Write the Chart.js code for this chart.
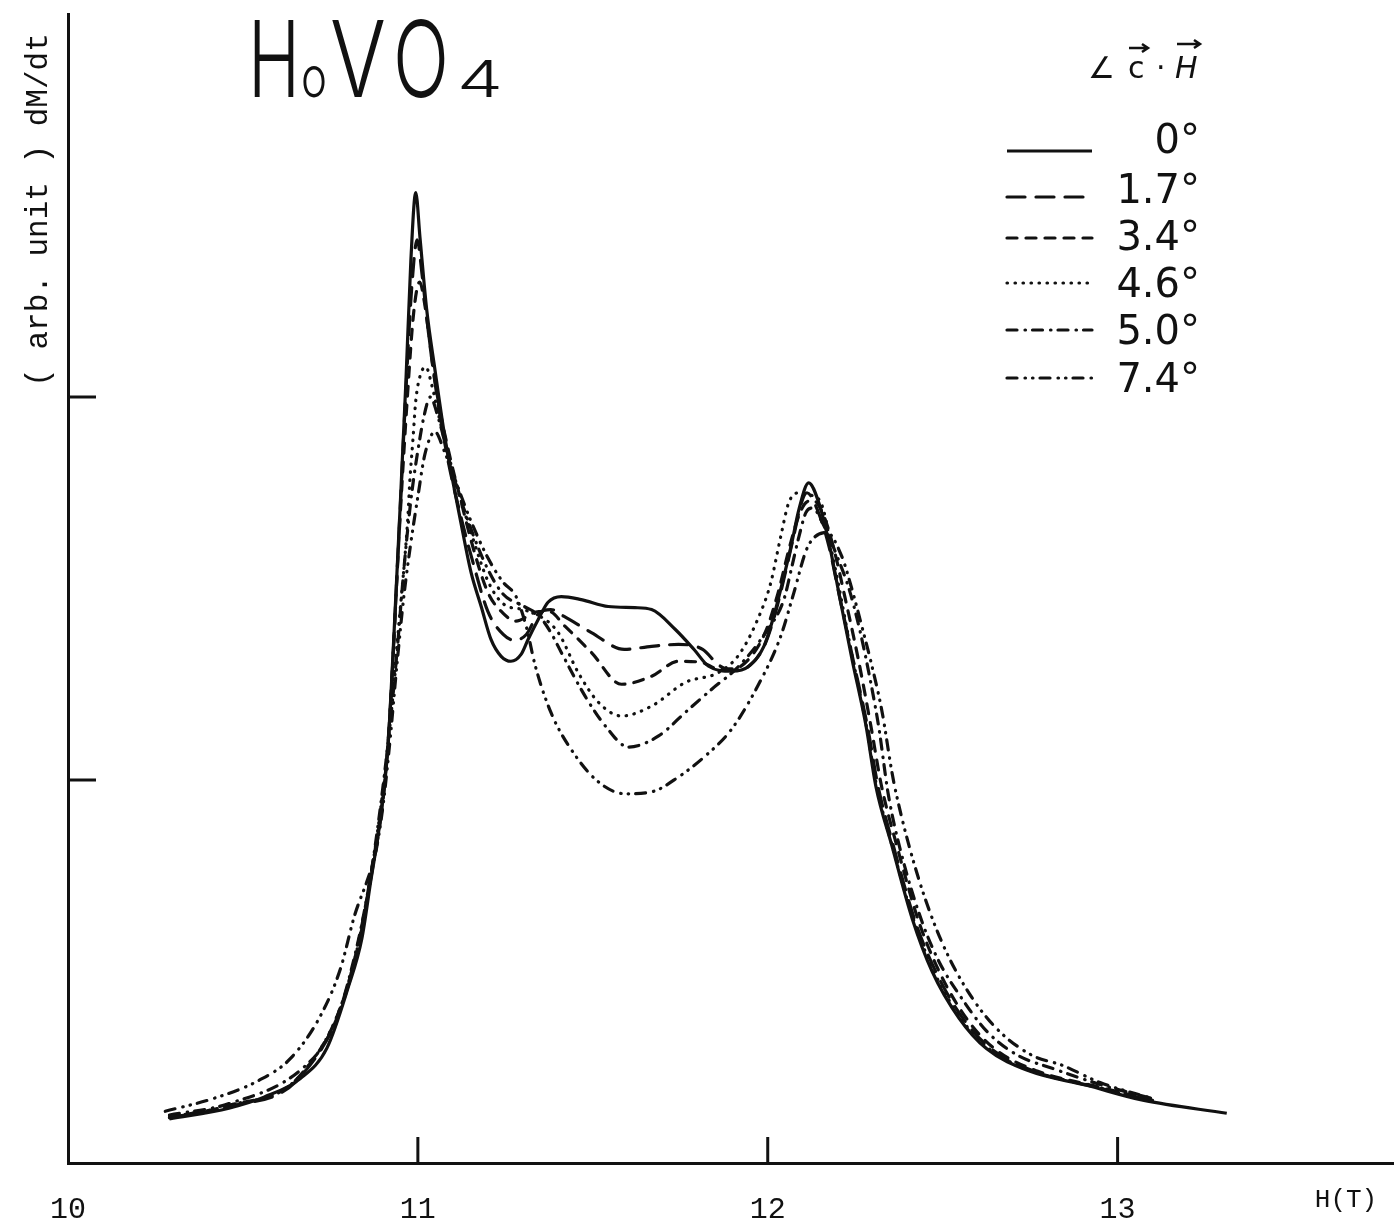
<!DOCTYPE html>
<html>
<head>
<meta charset="utf-8">
<title>HoVO4 dM/dt</title>
<script src="https://cdn.jsdelivr.net/npm/chart.js@4.4.1/dist/chart.umd.min.js"></script>
<style>
  html, body { margin: 0; padding: 0; background: #fff; }
  #wrap { width: 1394px; height: 1224px; }
</style>
</head>
<body>
<div id="wrap"><canvas id="chart" width="1394" height="1224"></canvas></div>
<script>
// angle between c axis and field, one curve per angle
const ANGLES = ['0°', '1.7°', '3.4°', '4.6°', '5.0°', '7.4°'];

// H (T) and dM/dt (arb. unit)
const H_0 = [10.29, 10.46, 10.56, 10.665, 10.74, 10.8, 10.84, 10.865, 10.894, 10.914, 10.931, 10.948, 10.966, 10.98, 10.994, 11.006, 11.025, 11.049, 11.077, 11.123, 11.152, 11.181, 11.209, 11.238, 11.266, 11.295, 11.315, 11.344, 11.372, 11.41, 11.467, 11.544, 11.62, 11.668, 11.736, 11.79, 11.831, 11.897, 11.946, 11.989, 12.017, 12.046, 12.069, 12.089, 12.117, 12.146, 12.175, 12.203, 12.241, 12.281, 12.309, 12.355, 12.413, 12.47, 12.547, 12.625, 12.748, 12.911, 13.072, 13.312];
const M_0 = [0.115, 0.143, 0.172, 0.221, 0.30, 0.456, 0.586, 0.734, 0.906, 1.081, 1.367, 1.688, 2.044, 2.357, 2.534, 2.417, 2.23, 2.07, 1.896, 1.672, 1.542, 1.453, 1.367, 1.323, 1.31, 1.328, 1.367, 1.419, 1.464, 1.479, 1.471, 1.453, 1.45, 1.445, 1.393, 1.34, 1.297, 1.284, 1.297, 1.349, 1.427, 1.531, 1.62, 1.706, 1.776, 1.724, 1.62, 1.49, 1.315, 1.141, 0.984, 0.828, 0.638, 0.50, 0.378, 0.299, 0.24, 0.203, 0.164, 0.13];

const H_1 = [10.29, 10.46, 10.665, 10.8, 10.865, 10.914, 10.948, 10.966, 10.982, 10.998, 11.012, 11.03, 11.055, 11.085, 11.125, 11.16, 11.2, 11.244, 11.275, 11.31, 11.345, 11.38, 11.418, 11.496, 11.59, 11.668, 11.745, 11.814, 11.86, 11.9, 11.95, 11.99, 12.02, 12.05, 12.075, 12.095, 12.112, 12.14, 12.175, 12.205, 12.245, 12.285, 12.315, 12.36, 12.42, 12.48, 12.56, 12.64, 12.76, 12.92, 13.1];
const M_1 = [0.118, 0.147, 0.226, 0.46, 0.74, 1.085, 1.68, 2.02, 2.28, 2.41, 2.32, 2.17, 2.0, 1.84, 1.68, 1.56, 1.44, 1.38, 1.365, 1.38, 1.435, 1.445, 1.427, 1.385, 1.341, 1.349, 1.354, 1.341, 1.30, 1.286, 1.30, 1.35, 1.43, 1.54, 1.64, 1.72, 1.75, 1.71, 1.61, 1.48, 1.31, 1.14, 0.985, 0.825, 0.635, 0.50, 0.375, 0.297, 0.24, 0.202, 0.162];

const H_2 = [10.29, 10.46, 10.665, 10.8, 10.865, 10.914, 10.95, 10.97, 10.988, 11.005, 11.02, 11.04, 11.06, 11.09, 11.12, 11.16, 11.2, 11.244, 11.28, 11.345, 11.375, 11.421, 11.496, 11.582, 11.668, 11.745, 11.811, 11.86, 11.9, 11.95, 11.995, 12.03, 12.06, 12.085, 12.105, 12.13, 12.16, 12.19, 12.22, 12.26, 12.295, 12.325, 12.37, 12.43, 12.49, 12.57, 12.65, 12.77, 12.93, 13.1];
const M_2 = [0.12, 0.15, 0.23, 0.465, 0.75, 1.09, 1.70, 2.0, 2.22, 2.30, 2.24, 2.1, 1.98, 1.85, 1.74, 1.60, 1.49, 1.435, 1.415, 1.44, 1.44, 1.401, 1.333, 1.25, 1.271, 1.31, 1.307, 1.29, 1.29, 1.32, 1.39, 1.49, 1.60, 1.68, 1.72, 1.73, 1.69, 1.60, 1.48, 1.31, 1.14, 0.985, 0.825, 0.635, 0.50, 0.375, 0.297, 0.24, 0.202, 0.164];

const H_3 = [10.29, 10.46, 10.665, 10.8, 10.865, 10.914, 10.93, 10.95, 10.971, 10.977, 10.986, 10.994, 11.008, 11.023, 11.04, 11.06, 11.09, 11.12, 11.152, 11.2, 11.244, 11.3, 11.345, 11.401, 11.458, 11.516, 11.582, 11.668, 11.765, 11.86, 11.92, 11.983, 12.009, 12.037, 12.06, 12.09, 12.12, 12.152, 12.166, 12.18, 12.198, 12.24, 12.28, 12.31, 12.355, 12.415, 12.475, 12.55, 12.63, 12.75, 12.92, 13.1];
const M_3 = [0.12, 0.15, 0.23, 0.465, 0.745, 1.085, 1.25, 1.45, 1.68, 1.78, 1.89, 1.99, 2.06, 2.078, 2.03, 1.95, 1.84, 1.74, 1.646, 1.52, 1.46, 1.445, 1.43, 1.385, 1.281, 1.203, 1.167, 1.193, 1.255, 1.281, 1.33, 1.445, 1.516, 1.635, 1.724, 1.75, 1.745, 1.724, 1.68, 1.61, 1.53, 1.33, 1.15, 0.99, 0.83, 0.64, 0.50, 0.38, 0.30, 0.242, 0.203, 0.164];

const H_4 = [10.29, 10.46, 10.665, 10.75, 10.8, 10.865, 10.914, 10.94, 10.96, 10.98, 11.0, 11.02, 11.035, 11.06, 11.1, 11.15, 11.2, 11.244, 11.3, 11.345, 11.38, 11.41, 11.478, 11.536, 11.602, 11.688, 11.765, 11.84, 11.917, 11.994, 12.046, 12.069, 12.089, 12.109, 12.128, 12.16, 12.2, 12.232, 12.261, 12.289, 12.317, 12.345, 12.384, 12.441, 12.49, 12.547, 12.625, 12.711, 12.82, 12.95, 13.1];
const M_4 = [0.125, 0.155, 0.243, 0.34, 0.47, 0.75, 1.09, 1.33, 1.55, 1.73, 1.86, 1.96, 2.0, 1.94, 1.80, 1.66, 1.55, 1.485, 1.455, 1.43, 1.385, 1.333, 1.219, 1.141, 1.086, 1.115, 1.177, 1.237, 1.297, 1.385, 1.471, 1.557, 1.635, 1.698, 1.71, 1.665, 1.58, 1.50, 1.40, 1.28, 1.14, 0.96, 0.80, 0.63, 0.525, 0.44, 0.345, 0.283, 0.245, 0.205, 0.168];

const H_5 = [10.278, 10.418, 10.542, 10.636, 10.722, 10.779, 10.819, 10.857, 10.877, 10.9, 10.92, 10.94, 10.96, 10.98, 11.0, 11.02, 11.049, 11.075, 11.1, 11.15, 11.2, 11.244, 11.28, 11.31, 11.335, 11.38, 11.438, 11.516, 11.593, 11.668, 11.745, 11.822, 11.897, 11.974, 12.035, 12.075, 12.11, 12.135, 12.169, 12.212, 12.241, 12.269, 12.298, 12.327, 12.355, 12.367, 12.404, 12.453, 12.51, 12.585, 12.662, 12.756, 12.842, 12.95, 13.1];
const M_5 = [0.135, 0.169, 0.214, 0.273, 0.385, 0.508, 0.646, 0.742, 0.80, 0.93, 1.10, 1.30, 1.48, 1.62, 1.74, 1.85, 1.909, 1.86, 1.80, 1.68, 1.58, 1.516, 1.48, 1.40, 1.30, 1.177, 1.08, 0.995, 0.964, 0.969, 1.008, 1.063, 1.133, 1.25, 1.37, 1.49, 1.60, 1.635, 1.646, 1.583, 1.497, 1.401, 1.297, 1.177, 1.02, 0.965, 0.828, 0.682, 0.552, 0.43, 0.344, 0.281, 0.255, 0.21, 0.168];

// axis ticks
const X_LABELS = [10, 11, 12, 13];
const X_MARKS = [11, 12, 13];
const Y_MARKS = [1, 2];

const X_TITLE = 'H(T)';
const Y_TITLE = '( arb. unit ) dM/dt';

const INK = '#111';
// line patterns: solid, long dash, dash, dots, dash-dot, dash-dot-dot
const DASHES = [[], [18, 11], [10, 9], [0.5, 7.5], [10, 8, 0.5, 7], [10, 8, 0.5, 7, 0.5, 7]];

const curves = [[H_0, M_0], [H_1, M_1], [H_2, M_2], [H_3, M_3], [H_4, M_4], [H_5, M_5]];

const datasets = curves.map(([hs, ms], i) => ({
  label: ANGLES[i],
  data: hs.map((h, k) => ({ x: h, y: ms[k] })),
  showLine: true,
  fill: false,
  borderColor: INK,
  borderWidth: 3.2,
  borderDash: DASHES[i],
  borderCapStyle: i === 0 ? 'butt' : 'round',
  cubicInterpolationMode: 'monotone',
  pointRadius: 0
}));

// extra drawing: inward ticks, axis captions, title and hand-written legend
const paperPlugin = {
  id: 'paper',
  afterDraw(chart) {
    const ctx = chart.ctx;
    const xs = chart.scales.x;
    const ys = chart.scales.y;
    const area = chart.chartArea;
    ctx.save();
    ctx.strokeStyle = INK;
    ctx.fillStyle = INK;
    ctx.lineWidth = 3;

    // tick marks pointing into the plot
    X_MARKS.forEach(v => {
      const px = xs.getPixelForValue(v);
      ctx.beginPath();
      ctx.moveTo(px, area.bottom);
      ctx.lineTo(px, area.bottom - 26);
      ctx.stroke();
    });
    Y_MARKS.forEach(v => {
      const py = ys.getPixelForValue(v);
      ctx.beginPath();
      ctx.moveTo(area.left, py);
      ctx.lineTo(area.left + 28, py);
      ctx.stroke();
    });

    // axis captions
    ctx.font = '26px "Liberation Mono", monospace';
    ctx.textAlign = 'center';
    ctx.textBaseline = 'middle';
    ctx.fillText(X_TITLE, 1346, 1200);

    ctx.save();
    ctx.translate(39, 210);
    ctx.rotate(-Math.PI / 2);
    ctx.font = '31px "Liberation Mono", monospace';
    ctx.fillText(Y_TITLE, 0, 0);
    ctx.restore();

    // compound name, drawn piece by piece like the lettering on the sheet
    const pieces = [
      { t: 'H', x: 248, w: 52, size: 106 },
      { t: 'o', x: 301, w: 26, size: 56 },
      { t: 'V', x: 330, w: 56, size: 106 },
      { t: 'O', x: 393, w: 56, size: 106 },
      { t: '4', x: 457, w: 46, size: 50 }
    ];
    ctx.textAlign = 'left';
    ctx.textBaseline = 'alphabetic';
    pieces.forEach(p => {
      ctx.font = `300 ${p.size}px Inter, "DejaVu Sans", sans-serif`;
      const sx = p.w / ctx.measureText(p.t).width;
      ctx.save();
      ctx.translate(p.x, 97);
      ctx.scale(sx, 1);
      ctx.fillText(p.t, 0, 0);
      ctx.restore();
    });

    // legend header: angle between c and H vectors
    ctx.font = '30px "DejaVu Sans", sans-serif';
    ctx.fillText('∠', 1088, 78);
    ctx.fillText('c', 1128, 78);
    ctx.fillText('·', 1156, 78);
    ctx.font = 'italic 30px "DejaVu Sans", sans-serif';
    ctx.fillText('H', 1175, 78);
    ctx.lineWidth = 2.5;
    [[1129, 1148, 48], [1177, 1200, 44]].forEach(([x0, x1, y]) => {
      ctx.beginPath();
      ctx.moveTo(x0, y);
      ctx.lineTo(x1, y);
      ctx.moveTo(x1 - 6, y - 4);
      ctx.lineTo(x1, y);
      ctx.lineTo(x1 - 6, y + 4);
      ctx.stroke();
    });

    // legend rows
    const lineY = [151, 197, 238, 283, 330, 378];
    const textY = [153, 203, 250, 297, 344, 392];
    ctx.font = '40px "DejaVu Sans", sans-serif';
    ctx.textAlign = 'right';
    chart.data.datasets.forEach((ds, i) => {
      ctx.lineWidth = ds.borderWidth;
      ctx.lineCap = ds.borderCapStyle;
      ctx.setLineDash(ds.borderDash);
      ctx.beginPath();
      ctx.moveTo(1007, lineY[i]);
      ctx.lineTo(1092, lineY[i]);
      ctx.stroke();
      ctx.setLineDash([]);
      ctx.fillText(ds.label, 1200, textY[i]);
    });
    ctx.restore();
  }
};

new Chart(document.getElementById('chart'), {
  type: 'scatter',
  data: { datasets: datasets },
  options: {
    responsive: false,
    animation: false,
    layout: { padding: { left: 68, right: 0, top: 14, bottom: 0 } },
    plugins: {
      legend: { display: false },
      tooltip: { enabled: false }
    },
    scales: {
      x: {
        type: 'linear',
        min: 10,
        max: 13.79,
        afterBuildTicks: scale => {
          scale.ticks = X_LABELS.map(v => ({ value: v }));
        },
        // room below the axis for the tick numbers only
        afterFit: scale => {
          scale.height = 61;
        },
        grid: { display: true, drawOnChartArea: false, drawTicks: false },
        border: { display: true, color: INK, width: 3 },
        ticks: {
          padding: 29,
          color: INK,
          autoSkip: false,
          maxRotation: 0,
          font: { family: '"Liberation Mono", monospace', size: 30 }
        }
      },
      y: {
        type: 'linear',
        min: 0,
        max: 3,
        grid: { display: true, drawOnChartArea: false, drawTicks: false },
        border: { display: true, color: INK, width: 3 },
        ticks: { display: false }
      }
    }
  },
  plugins: [paperPlugin]
});
</script>
</body>
</html>
